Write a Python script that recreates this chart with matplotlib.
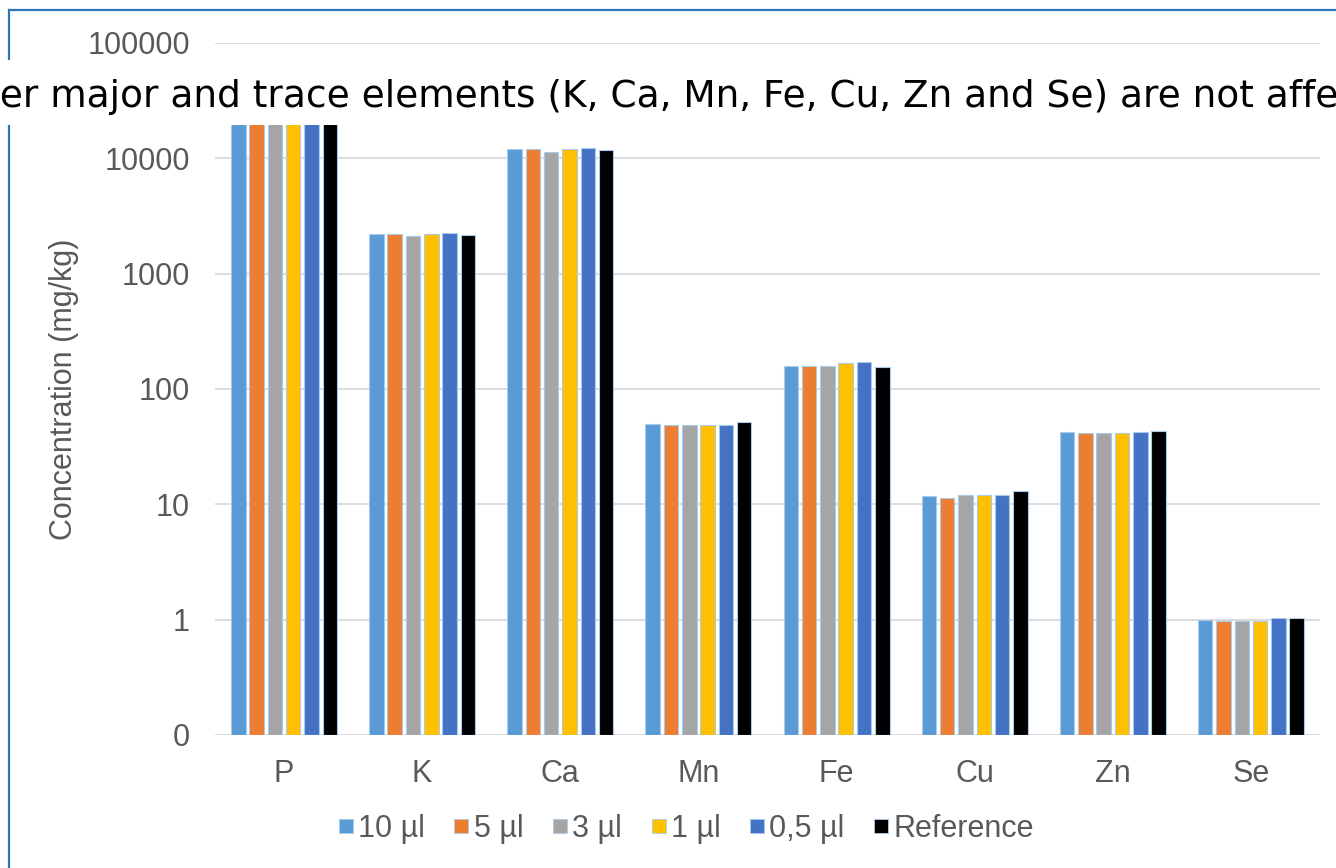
import matplotlib.pyplot as plt
import numpy as np
from matplotlib.patches import Rectangle
from matplotlib.lines import Line2D

elements = ['P', 'K', 'Ca', 'Mn', 'Fe', 'Cu', 'Zn', 'Se']
series_names = ['10 µl', '5 µl', '3 µl', '1 µl', '0,5 µl', 'Reference']
series_colors = ['#5B9BD5', '#ED7D31', '#A5A5A5', '#FFC000', '#4472C4', '#000000']

# concentrations in mg/kg, one list per sample volume
vol_10 = [25000, 2210, 11970, 49.4, 158, 11.7, 42.4, 1.00]
vol_5 = [25000, 2210, 11970, 48.5, 158, 11.35, 41.6, 0.98]
vol_3 = [25000, 2110, 11280, 48.5, 158, 12.05, 41.6, 0.98]
vol_1 = [25000, 2210, 11970, 48.5, 167, 12.05, 41.6, 0.98]
vol_05 = [25000, 2265, 12220, 48.5, 171, 12.0, 42.4, 1.03]
reference = [25000, 2180, 11800, 52.1, 156, 13.1, 43.4, 1.03]

y_ticks = [0.1, 1, 10, 100, 1000, 10000, 100000]
y_tick_labels = ['0', '1', '10', '100', '1000', '10000', '100000']

title = 'Other major and trace elements (K, Ca, Mn, Fe, Cu, Zn and Se) are not affected'

W, H = 1336, 868
fig = plt.figure(figsize=(W / 100, H / 100), dpi=100)
ax = fig.add_axes([215 / W, 1 - 735 / H, (1320 - 215) / W, (735 - 43) / H])

gray = '#595959'
tick_font = 'Liberation Sans'
fs = 22

x = np.arange(len(elements))
step = 0.1325
width = 0.105
all_series = [vol_10, vol_5, vol_3, vol_1, vol_05, reference]
for i, (vals, name, col) in enumerate(zip(all_series, series_names, series_colors)):
    vals = np.array(vals)
    ax.bar(x + (i - 2.5) * step, vals - 0.1, bottom=0.1, width=width,
           color=col, edgecolor='#A9CBEA', linewidth=0.8, label=name, zorder=3)

ax.set_yscale('log')
ax.set_ylim(0.1, 100000)
ax.set_xlim(-0.5, len(elements) - 0.5)
ax.set_yticks(y_ticks)
ax.set_yticklabels(y_tick_labels)
ax.yaxis.set_minor_locator(plt.NullLocator())
ax.set_xticks(x)
ax.set_xticklabels(elements)
ax.grid(axis='y', color='#D9D9D9', linewidth=1.3, zorder=0)
for s in ax.spines.values():
    s.set_visible(False)
ax.tick_params(axis='both', length=0, colors=gray, labelsize=fs)
ax.tick_params(axis='y', pad=18)
ax.tick_params(axis='x', pad=17)
for lab in ax.get_xticklabels() + ax.get_yticklabels():
    lab.set_fontfamily(tick_font)
ax.set_ylabel('Concentration (mg/kg)', color=gray, fontsize=fs,
              fontfamily=tick_font, labelpad=6)

handles = [Line2D([], [], marker='s', linestyle='none', markersize=10,
                  markerfacecolor=c, markeredgecolor='#A9CBEA', markeredgewidth=0.6)
           for c in series_colors]
leg = fig.legend(handles, series_names, loc='center', ncol=6,
                 bbox_to_anchor=(686 / W, 1 - 829 / H), frameon=False,
                 handlelength=0.5, handletextpad=0.15, columnspacing=0.95,
                 prop={'family': tick_font, 'size': fs})
for t in leg.get_texts():
    t.set_color(gray)

# outer frame
fig.add_artist(Line2D([9 / W, 1], [1 - 10 / H, 1 - 10 / H], color='#2E75B6', linewidth=1.6))
fig.add_artist(Line2D([9 / W, 9 / W], [0, 1 - 10 / H], color='#2E75B6', linewidth=1.6))

# white band behind the headline
fig.add_artist(Rectangle((0, 1 - 125 / H), 1, 65 / H, transform=fig.transFigure,
                         facecolor='white', edgecolor='none', zorder=5))

# headline, shifted so its first letters run off the left edge
fig.canvas.draw()
probe = fig.text(0, 0, 'Oth', fontsize=27, fontfamily='DejaVu Sans')
shift = probe.get_window_extent(fig.canvas.get_renderer()).width / W
probe.remove()
fig.text(-shift, 1 - 107 / H, title, fontsize=27, fontfamily='DejaVu Sans',
         color='black', va='baseline', ha='left', zorder=6)

fig.savefig('out.png', dpi=100)
